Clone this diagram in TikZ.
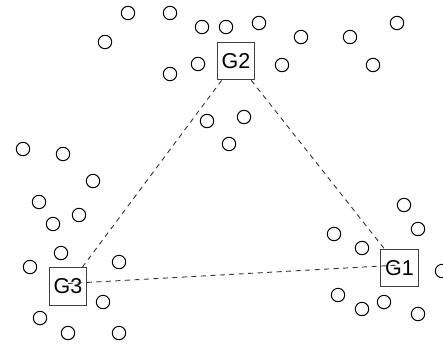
\documentclass[tikz,border=0pt]{standalone}
\usepackage{fontspec}
\setmainfont{Liberation Sans}
\begin{document}
\begin{tikzpicture}[x=1pt,y=-1pt,
  dot/.style={circle,draw=black,line width=1pt,minimum size=13.4pt,inner sep=0pt},
  gnode/.style={draw=black!75,line width=1.2pt,minimum width=37.5pt,minimum height=37.5pt,inner sep=0pt,font=\fontsize{21.5}{22}\selectfont},
  link/.style={draw=black!80,line width=0.9pt,dash pattern=on 5pt off 4.5pt}]
\useasboundingbox (0,0) rectangle (443,343);
% group heads
\node[gnode] (g1) at (399.5,268) {G1};
\node[gnode] (g2) at (236,61) {G2};
\node[gnode] (g3) at (68,286.5) {G3};
% links between heads
\draw[link] (g2) -- (g1);
\draw[link] (g2) -- (g3);
\draw[link] ([yshift=3pt]g3.center) -- ([yshift=3pt]g1.center);
% scattered members
\foreach \x/\y [count=\i] in {
  128/13,170/13,202/27,226/27,259/23,105/42,301/37,350/37,397/23,
  198/64,170/74,282/65,373/65,207/121,244/117,229/144,
  23/149,63/154,93/181,39/202,79/215,53/224,61/253,30/267,119/262,
  103/302,40/318,68/333,119/333,
  404/205,418/229,334/234,362/248,442/271,338/295,362/309,384/302,418/314}
  \node[dot] (m\i) at (\x,\y) {};
\end{tikzpicture}
\end{document}
